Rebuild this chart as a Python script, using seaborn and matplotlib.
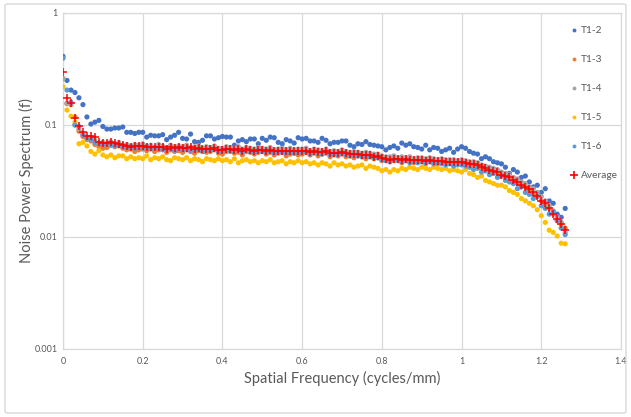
import numpy as np
import pandas as pd
import matplotlib
matplotlib.use("Agg")
import matplotlib.pyplot as plt
import seaborn as sns
from matplotlib.ticker import FixedLocator, FixedFormatter, NullLocator
from matplotlib.patches import FancyBboxPatch

# ---------------- data ----------------
freq_step = 0.01
n_points = 127
freq = [round(i * freq_step, 2) for i in range(n_points)]

t1_2 = [0.410, 0.250, 0.205, 0.195, 0.175, 0.152, 0.118, 0.102, 0.106, 0.110,
        0.097, 0.092, 0.092, 0.094, 0.094, 0.096, 0.086, 0.086, 0.084, 0.086,
        0.086, 0.078, 0.081, 0.080, 0.080, 0.082, 0.074, 0.078, 0.081, 0.086,
        0.076, 0.075, 0.083, 0.071, 0.070, 0.073, 0.080, 0.080, 0.075, 0.077,
        0.079, 0.078, 0.078, 0.066, 0.072, 0.074, 0.071, 0.075, 0.075, 0.068,
        0.076, 0.073, 0.078, 0.077, 0.070, 0.068, 0.074, 0.072, 0.069, 0.077,
        0.075, 0.076, 0.072, 0.072, 0.070, 0.076, 0.073, 0.068, 0.070, 0.070,
        0.072, 0.072, 0.066, 0.064, 0.068, 0.067, 0.071, 0.067, 0.066, 0.065,
        0.064, 0.060, 0.063, 0.065, 0.062, 0.069, 0.066, 0.068, 0.064, 0.063,
        0.061, 0.066, 0.060, 0.063, 0.062, 0.058, 0.060, 0.062, 0.057, 0.061,
        0.064, 0.062, 0.058, 0.056, 0.055, 0.050, 0.052, 0.050, 0.047, 0.046,
        0.045, 0.042, 0.037, 0.040, 0.038, 0.034, 0.035, 0.031, 0.028, 0.029,
        0.025, 0.027, 0.021, 0.020, 0.016, 0.015, 0.018]

t1_3 = [0.260, 0.155, 0.152, 0.118, 0.088, 0.079, 0.074, 0.072, 0.067, 0.064,
        0.062, 0.063, 0.066, 0.064, 0.065, 0.062, 0.060, 0.061, 0.058, 0.060,
        0.061, 0.059, 0.062, 0.058, 0.060, 0.061, 0.057, 0.060, 0.058, 0.059,
        0.057, 0.060, 0.058, 0.056, 0.059, 0.058, 0.057, 0.058, 0.060, 0.056,
        0.055, 0.058, 0.059, 0.056, 0.057, 0.054, 0.058, 0.057, 0.055, 0.057,
        0.058, 0.055, 0.057, 0.054, 0.056, 0.057, 0.053, 0.055, 0.056, 0.054,
        0.055, 0.057, 0.054, 0.056, 0.053, 0.055, 0.056, 0.052, 0.054, 0.053,
        0.055, 0.052, 0.053, 0.051, 0.053, 0.052, 0.050, 0.052, 0.050, 0.051,
        0.048, 0.049, 0.047, 0.048, 0.049, 0.046, 0.048, 0.047, 0.046, 0.048,
        0.047, 0.045, 0.047, 0.046, 0.045, 0.047, 0.045, 0.046, 0.044, 0.046,
        0.045, 0.044, 0.043, 0.044, 0.042, 0.041, 0.039, 0.039, 0.037, 0.037,
        0.035, 0.034, 0.033, 0.031, 0.030, 0.028, 0.028, 0.026, 0.024, 0.023,
        0.021, 0.019, 0.018, 0.016, 0.014, 0.013, 0.012]

t1_4 = [0.258, 0.156, 0.157, 0.100, 0.092, 0.083, 0.076, 0.077, 0.073, 0.069,
        0.070, 0.068, 0.071, 0.067, 0.070, 0.066, 0.067, 0.065, 0.067, 0.066,
        0.068, 0.065, 0.066, 0.063, 0.067, 0.065, 0.063, 0.066, 0.064, 0.065,
        0.064, 0.066, 0.063, 0.064, 0.065, 0.062, 0.064, 0.063, 0.065, 0.062,
        0.062, 0.064, 0.063, 0.062, 0.064, 0.061, 0.063, 0.062, 0.061, 0.063,
        0.062, 0.061, 0.063, 0.060, 0.061, 0.062, 0.060, 0.062, 0.060, 0.061,
        0.061, 0.062, 0.059, 0.061, 0.060, 0.059, 0.061, 0.058, 0.059, 0.058,
        0.060, 0.058, 0.057, 0.058, 0.057, 0.056, 0.057, 0.056, 0.055, 0.055,
        0.053, 0.052, 0.052, 0.053, 0.051, 0.052, 0.051, 0.052, 0.050, 0.051,
        0.051, 0.050, 0.051, 0.050, 0.049, 0.050, 0.049, 0.049, 0.049, 0.048,
        0.049, 0.048, 0.047, 0.047, 0.046, 0.044, 0.043, 0.042, 0.041, 0.040,
        0.038, 0.037, 0.036, 0.034, 0.033, 0.031, 0.030, 0.028, 0.027, 0.025,
        0.023, 0.021, 0.019, 0.017, 0.015, 0.0135, 0.011]

t1_5 = [0.220, 0.136, 0.120, 0.106, 0.068, 0.070, 0.065, 0.058, 0.055, 0.059,
        0.054, 0.052, 0.054, 0.051, 0.053, 0.053, 0.050, 0.052, 0.050, 0.051,
        0.050, 0.053, 0.049, 0.051, 0.050, 0.052, 0.049, 0.048, 0.051, 0.050,
        0.049, 0.051, 0.048, 0.050, 0.049, 0.047, 0.050, 0.049, 0.048, 0.050,
        0.048, 0.049, 0.047, 0.050, 0.046, 0.048, 0.049, 0.047, 0.048, 0.046,
        0.048, 0.047, 0.049, 0.046, 0.047, 0.048, 0.045, 0.047, 0.046, 0.048,
        0.046, 0.047, 0.045, 0.046, 0.044, 0.046, 0.045, 0.043, 0.046, 0.044,
        0.045, 0.043, 0.044, 0.042, 0.043, 0.044, 0.041, 0.043, 0.042, 0.041,
        0.039, 0.040, 0.038, 0.040, 0.039, 0.041, 0.040, 0.042, 0.041, 0.040,
        0.042, 0.041, 0.040, 0.042, 0.041, 0.040, 0.041, 0.039, 0.040, 0.039,
        0.038, 0.040, 0.037, 0.036, 0.034, 0.035, 0.032, 0.031, 0.030, 0.029,
        0.029, 0.028, 0.026, 0.025, 0.024, 0.022, 0.021, 0.020, 0.019, 0.0175,
        0.0155, 0.0135, 0.0115, 0.011, 0.0102, 0.0088, 0.0087]

t1_6 = [0.395, 0.205, 0.160, 0.100, 0.097, 0.082, 0.077, 0.074, 0.070, 0.068,
        0.067, 0.068, 0.066, 0.065, 0.066, 0.064, 0.063, 0.064, 0.062, 0.063,
        0.062, 0.064, 0.061, 0.063, 0.062, 0.060, 0.062, 0.061, 0.059, 0.062,
        0.060, 0.061, 0.059, 0.060, 0.061, 0.058, 0.060, 0.059, 0.061, 0.058,
        0.059, 0.060, 0.058, 0.059, 0.060, 0.057, 0.059, 0.058, 0.057, 0.059,
        0.058, 0.057, 0.059, 0.056, 0.058, 0.057, 0.056, 0.058, 0.056, 0.057,
        0.057, 0.058, 0.055, 0.057, 0.056, 0.055, 0.057, 0.054, 0.055, 0.054,
        0.056, 0.054, 0.053, 0.054, 0.053, 0.052, 0.053, 0.052, 0.051, 0.051,
        0.049, 0.048, 0.047, 0.049, 0.048, 0.047, 0.048, 0.046, 0.047, 0.046,
        0.047, 0.046, 0.047, 0.045, 0.046, 0.045, 0.044, 0.045, 0.043, 0.044,
        0.044, 0.043, 0.042, 0.040, 0.041, 0.038, 0.039, 0.036, 0.037, 0.034,
        0.035, 0.032, 0.031, 0.030, 0.027, 0.028, 0.025, 0.024, 0.022, 0.023,
        0.019, 0.018, 0.016, 0.017, 0.014, 0.012, 0.0105]

average = [0.300, 0.175, 0.158, 0.116, 0.097, 0.086, 0.080, 0.079, 0.078, 0.071,
           0.069, 0.069, 0.070, 0.069, 0.068, 0.066, 0.065, 0.064, 0.065, 0.065,
           0.065, 0.064, 0.064, 0.063, 0.064, 0.064, 0.061, 0.063, 0.062, 0.063,
           0.062, 0.062, 0.063, 0.061, 0.062, 0.061, 0.061, 0.061, 0.062, 0.060,
           0.060, 0.061, 0.061, 0.060, 0.061, 0.059, 0.061, 0.060, 0.059, 0.060,
           0.060, 0.059, 0.060, 0.058, 0.058, 0.059, 0.058, 0.059, 0.058, 0.058,
           0.058, 0.059, 0.057, 0.058, 0.057, 0.057, 0.058, 0.056, 0.056, 0.056,
           0.057, 0.056, 0.055, 0.055, 0.055, 0.054, 0.054, 0.054, 0.052, 0.053,
           0.051, 0.050, 0.049, 0.050, 0.050, 0.049, 0.050, 0.049, 0.049, 0.049,
           0.049, 0.048, 0.049, 0.048, 0.048, 0.048, 0.047, 0.047, 0.047, 0.047,
           0.047, 0.046, 0.045, 0.045, 0.044, 0.042, 0.041, 0.040, 0.039, 0.038,
           0.036, 0.035, 0.034, 0.032, 0.031, 0.029, 0.028, 0.027, 0.025, 0.023,
           0.021, 0.020, 0.018, 0.016, 0.0145, 0.013, 0.0115]

series_names = ["T1-2", "T1-3", "T1-4", "T1-5", "T1-6", "Average"]
series_values = [t1_2, t1_3, t1_4, t1_5, t1_6, average]
series_colors = ["#4472C4", "#ED7D31", "#A5A5A5", "#FFC000", "#5B9BD5", "#FF0000"]

x_ticks = [0, 0.2, 0.4, 0.6, 0.8, 1.0, 1.2, 1.4]
x_tick_labels = ["0", "0.2", "0.4", "0.6", "0.8", "1", "1.2", "1.4"]
y_ticks = [0.001, 0.01, 0.1, 1]
y_tick_labels = ["0.001", "0.01", "0.1", "1"]

# ---------------- plot ----------------
sns.set_theme(style="white")
plt.rcParams["font.family"] = ["Lato", "DejaVu Sans"]

W, H = 631, 417
fig = plt.figure(figsize=(W / 100, H / 100), dpi=100)
fig.patch.set_facecolor("white")

# outer chart frame
frame = FancyBboxPatch((5 / W, 4 / H), (W - 10) / W, (H - 8) / H,
                       boxstyle="round,pad=0,rounding_size=0.004",
                       transform=fig.transFigure, fill=False,
                       edgecolor="#D9D9D9", linewidth=1.0)
fig.patches.append(frame)

left, right, top, bottom = 63, 621, 13, 349
ax = fig.add_axes([left / W, 1 - bottom / H, (right - left) / W, (bottom - top) / H])

legend_handles = []
for name, vals, col in zip(series_names, series_values, series_colors):
    df = pd.DataFrame({"freq": freq, "nps": vals})
    if name == "Average":
        sns.scatterplot(data=df, x="freq", y="nps", ax=ax, marker="+", s=30,
                        color=col, linewidth=1.1, zorder=5)
        h = plt.Line2D([], [], marker="+", color=col, linestyle="none",
                       markersize=5.5, markeredgewidth=1.2)
    else:
        sns.scatterplot(data=df, x="freq", y="nps", ax=ax, marker="o", s=14,
                        color=col, edgecolor="none", linewidth=0, zorder=3)
        h = plt.Line2D([], [], marker="o", color=col, linestyle="none",
                       markersize=2.8, markeredgewidth=0)
    legend_handles.append(h)

ax.set_yscale("log")
ax.set_xlim(0, 1.4)
ax.set_ylim(0.001, 1)
ax.xaxis.set_major_locator(FixedLocator(x_ticks))
ax.xaxis.set_major_formatter(FixedFormatter(x_tick_labels))
ax.yaxis.set_major_locator(FixedLocator(y_ticks))
ax.yaxis.set_major_formatter(FixedFormatter(y_tick_labels))
ax.yaxis.set_minor_locator(NullLocator())
ax.grid(True, which="major", color="#D9D9D9", linewidth=0.9)
ax.set_axisbelow(True)
for sp in ax.spines.values():
    sp.set_color("#D9D9D9")
    sp.set_linewidth(0.9)
ax.tick_params(axis="x", which="both", length=0, labelsize=6.5,
               labelcolor="#595959", pad=6)
ax.tick_params(axis="y", which="both", length=0, labelsize=6.5,
               labelcolor="#595959", pad=4)

ax.set_xlabel("Spatial Frequency (cycles/mm)", fontsize=10.5, color="#595959", labelpad=3)
ax.set_ylabel("Noise Power Spectrum (f)", fontsize=10.5, color="#595959", labelpad=0)

leg = ax.legend(legend_handles, series_names, loc="upper left",
                bbox_to_anchor=(570 / W, 1 - 26 / H), bbox_transform=fig.transFigure,
                frameon=False, fontsize=7.3, labelspacing=1.97, handlelength=0.7,
                handletextpad=0.35, borderaxespad=0, borderpad=0)
for t in leg.get_texts():
    t.set_color("#595959")

fig.savefig("out.png", dpi=100, facecolor="white")
